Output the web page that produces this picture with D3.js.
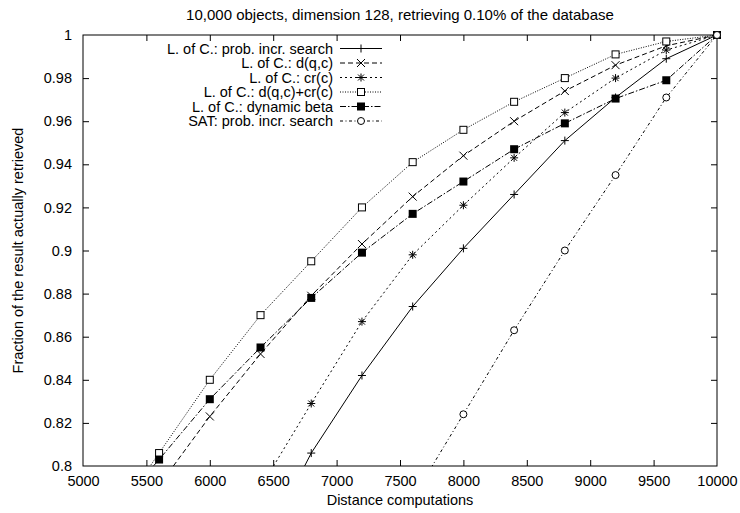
<!DOCTYPE html>
<html>
<head>
<meta charset="utf-8">
<script src="https://cdn.jsdelivr.net/npm/d3@7"></script>
<style>
  html, body { margin: 0; padding: 0; background: #fff; }
  svg { display: block; font-family: "Liberation Sans", Arial, Helvetica, sans-serif; }
</style>
</head>
<body>
<svg id="chart" width="740" height="513"></svg>
<script>
// Distance computations (x) at which each method was measured
const xProb   = [6400, 6800, 7200, 7600, 8000, 8400, 8800, 9200, 9600, 10000];
const yProb   = [0.760, 0.806, 0.842, 0.874, 0.901, 0.926, 0.951, 0.971, 0.989, 1.0];

const xDqc    = [5600, 6000, 6400, 6800, 7200, 7600, 8000, 8400, 8800, 9200, 9600, 10000];
const yDqc    = [0.791, 0.823, 0.852, 0.879, 0.903, 0.925, 0.944, 0.960, 0.974, 0.986, 0.995, 1.0];

const xCr     = [6400, 6800, 7200, 7600, 8000, 8400, 8800, 9200, 9600, 10000];
const yCr     = [0.790, 0.829, 0.867, 0.898, 0.921, 0.943, 0.964, 0.980, 0.993, 1.0];

const xDqcCr  = [5200, 5600, 6000, 6400, 6800, 7200, 7600, 8000, 8400, 8800, 9200, 9600, 10000];
const yDqcCr  = [0.772, 0.806, 0.840, 0.870, 0.895, 0.920, 0.941, 0.956, 0.969, 0.980, 0.991, 0.997, 1.0];

const xBeta   = [5200, 5600, 6000, 6400, 6800, 7200, 7600, 8000, 8400, 8800, 9200, 9600, 10000];
const yBeta   = [0.776, 0.803, 0.831, 0.855, 0.878, 0.899, 0.917, 0.932, 0.947, 0.959, 0.9705, 0.979, 1.0];

const xSat    = [7600, 8000, 8400, 8800, 9200, 9600, 10000];
const ySat    = [0.785, 0.824, 0.863, 0.900, 0.935, 0.971, 1.0];

const seriesNames = [
  "L. of C.: prob. incr. search",
  "L. of C.: d(q,c)",
  "L. of C.: cr(c)",
  "L. of C.: d(q,c)+cr(c)",
  "L. of C.: dynamic beta",
  "SAT: prob. incr. search"
];

const xTicks = [5000, 5500, 6000, 6500, 7000, 7500, 8000, 8500, 9000, 9500, 10000];
const yTicks = [0.8, 0.82, 0.84, 0.86, 0.88, 0.9, 0.92, 0.94, 0.96, 0.98, 1];

const titleText = "10,000 objects, dimension 128, retrieving 0.10% of the database";
const xLabel = "Distance computations";
const yLabel = "Fraction of the result actually retrieved";

// ---- layout ----
const svg = d3.select("#chart");
const W = 740, H = 513;
const plot = { left: 83, right: 717, top: 35, bottom: 466 };
const fontSize = "14.5px";

const x = d3.scaleLinear().domain([5000, 10000]).range([plot.left, plot.right]);
const y = d3.scaleLinear().domain([0.8, 1]).range([plot.bottom, plot.top]);

const series = [
  { name: seriesNames[0], xs: xProb,  ys: yProb,  dash: null,          marker: "plus" },
  { name: seriesNames[1], xs: xDqc,   ys: yDqc,   dash: "5,3",         marker: "cross" },
  { name: seriesNames[2], xs: xCr,    ys: yCr,    dash: "2,3",         marker: "star" },
  { name: seriesNames[3], xs: xDqcCr, ys: yDqcCr, dash: "1,1.5",       marker: "box" },
  { name: seriesNames[4], xs: xBeta,  ys: yBeta,  dash: "6,2,1.5,2",   marker: "boxfilled" },
  { name: seriesNames[5], xs: xSat,   ys: ySat,   dash: "3,2.5,1,2.5", marker: "circle" }
];

svg.append("rect").attr("width", W).attr("height", H).attr("fill", "#fff");

svg.append("defs").append("clipPath").attr("id", "plotClip")
  .append("rect")
  .attr("x", plot.left).attr("y", plot.top)
  .attr("width", plot.right - plot.left)
  .attr("height", plot.bottom - plot.top);

// ---- axes with inward ticks on all four sides ----
const tickLen = 6;

const gBottom = svg.append("g").attr("transform", `translate(0,${plot.bottom})`)
  .call(d3.axisBottom(x).tickValues(xTicks).tickSize(-tickLen).tickPadding(tickLen + 4)
    .tickFormat(d3.format("d")));
const gTop = svg.append("g").attr("transform", `translate(0,${plot.top})`)
  .call(d3.axisTop(x).tickValues(xTicks).tickSize(-tickLen).tickFormat(""));
const gLeft = svg.append("g").attr("transform", `translate(${plot.left},0)`)
  .call(d3.axisLeft(y).tickValues(yTicks).tickSize(-tickLen).tickPadding(tickLen + 5)
    .tickFormat(d => d3.format("")(+d.toFixed(2))));
const gRight = svg.append("g").attr("transform", `translate(${plot.right},0)`)
  .call(d3.axisRight(y).tickValues(yTicks).tickSize(-tickLen).tickFormat(""));

[gBottom, gTop, gLeft, gRight].forEach(g => {
  g.select(".domain").remove();
  g.selectAll(".tick line").attr("stroke", "#000").attr("stroke-width", 1);
  g.selectAll(".tick text").attr("fill", "#000")
    .style("font-size", fontSize)
    .style("font-family", '"Liberation Sans", Arial, sans-serif');
});
// the end ticks coincide with the frame
gBottom.selectAll(".tick").filter(d => d === 5000 || d === 10000).select("line").remove();
gTop.selectAll(".tick").filter(d => d === 5000 || d === 10000).select("line").remove();
gLeft.selectAll(".tick").filter(d => d === 0.8 || d === 1).select("line").remove();
gRight.selectAll(".tick").filter(d => d === 0.8 || d === 1).select("line").remove();

// frame
svg.append("rect")
  .attr("x", plot.left).attr("y", plot.top)
  .attr("width", plot.right - plot.left).attr("height", plot.bottom - plot.top)
  .attr("fill", "none").attr("stroke", "#000").attr("stroke-width", 1);

// ---- titles ----
svg.append("text")
  .attr("x", (plot.left + plot.right) / 2).attr("y", 20)
  .attr("text-anchor", "middle").style("font-size", "15px")
  .text(titleText);

svg.append("text")
  .attr("x", (plot.left + plot.right) / 2).attr("y", 505)
  .attr("text-anchor", "middle").style("font-size", fontSize)
  .text(xLabel);

svg.append("text")
  .attr("transform", `translate(23,${(plot.top + plot.bottom) / 2}) rotate(-90)`)
  .attr("text-anchor", "middle").style("font-size", fontSize)
  .text(yLabel);

// ---- markers ----
function drawMarker(g, kind, cx, cy) {
  const s = 4;
  const line = (x1, y1, x2, y2) => {
    g.append("line").attr("x1", x1).attr("y1", y1).attr("x2", x2).attr("y2", y2)
      .attr("stroke", "#000").attr("stroke-width", 1);
  };
  if (kind === "plus" || kind === "star") {
    line(cx - s, cy, cx + s, cy);
    line(cx, cy - s, cx, cy + s);
  }
  if (kind === "cross" || kind === "star") {
    const t = kind === "star" ? 3 : 4;
    line(cx - t, cy - t, cx + t, cy + t);
    line(cx - t, cy + t, cx + t, cy - t);
  }
  if (kind === "box") {
    g.append("rect").attr("x", cx - 3.5).attr("y", cy - 3.5).attr("width", 7).attr("height", 7)
      .attr("fill", "#fff").attr("stroke", "#000").attr("stroke-width", 1);
  }
  if (kind === "boxfilled") {
    g.append("rect").attr("x", cx - 4).attr("y", cy - 4).attr("width", 8).attr("height", 8)
      .attr("fill", "#000");
  }
  if (kind === "circle") {
    g.append("circle").attr("cx", cx).attr("cy", cy).attr("r", 3.5)
      .attr("fill", "#fff").attr("stroke", "#000").attr("stroke-width", 1);
  }
}

// ---- series lines and points ----
const lineGen = d3.line().x(d => x(d[0])).y(d => y(d[1]));
const linesG = svg.append("g").attr("clip-path", "url(#plotClip)");
const pointsG = svg.append("g");

series.forEach(s => {
  const pts = s.xs.map((xv, i) => [xv, s.ys[i]]);
  linesG.append("path")
    .datum(pts)
    .attr("d", lineGen)
    .attr("fill", "none")
    .attr("stroke", "#000")
    .attr("stroke-width", 1)
    .attr("stroke-dasharray", s.dash);
  pts.filter(p => p[1] >= 0.8 && p[1] <= 1 && p[0] >= 5000 && p[0] <= 10000)
    .forEach(p => drawMarker(pointsG, s.marker, x(p[0]), y(p[1])));
});

// ---- legend ----
const legend = svg.append("g");
const legTextX = 333, legLineX1 = 340, legLineX2 = 382, legTop = 48.5, legStep = 14.5;
series.forEach((s, i) => {
  const cy = legTop + i * legStep;
  legend.append("text")
    .attr("x", legTextX).attr("y", cy + 5)
    .attr("text-anchor", "end").style("font-size", fontSize)
    .text(s.name);
  legend.append("line")
    .attr("x1", legLineX1).attr("x2", legLineX2).attr("y1", cy).attr("y2", cy)
    .attr("stroke", "#000").attr("stroke-width", 1)
    .attr("stroke-dasharray", s.dash);
  drawMarker(legend, s.marker, (legLineX1 + legLineX2) / 2, cy);
});
</script>
</body>
</html>
